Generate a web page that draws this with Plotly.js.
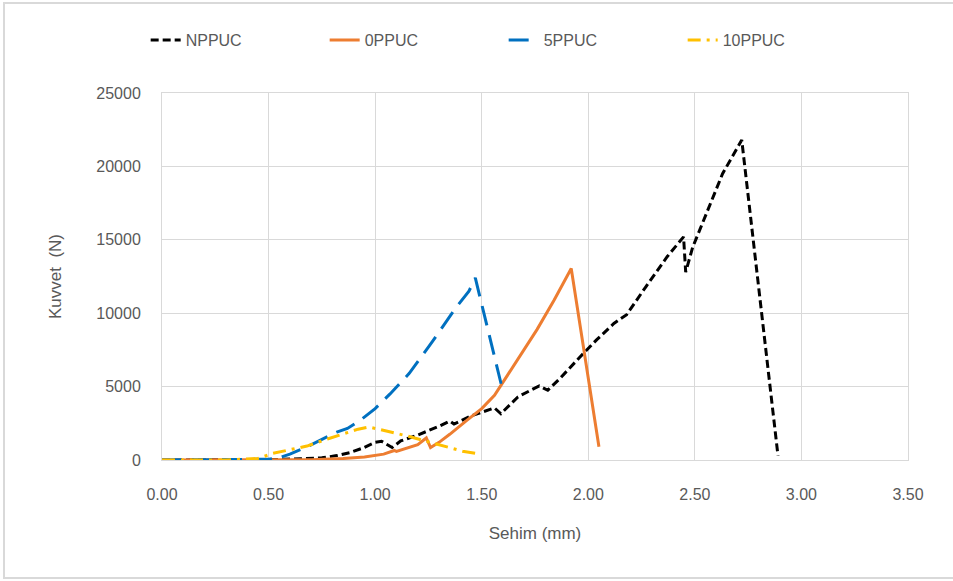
<!DOCTYPE html>
<html>
<head>
<meta charset="utf-8">
<script src="https://cdn.plot.ly/plotly-3.0.1.min.js"></script>
<style>html,body{margin:0;padding:0;background:#fff;}#chart{width:953px;height:581px;}</style>
</head>
<body>
<div id="chart"></div>
<script>
// Sehim (mm) / Kuvvet (N)
const npX = [0, 0.3, 0.55, 0.65, 0.75, 0.82, 0.88, 0.94, 1.0, 1.03, 1.08, 1.12, 1.2, 1.3, 1.35, 1.37, 1.45, 1.56, 1.59, 1.67, 1.77, 1.81, 1.87, 1.96, 2.04, 2.12, 2.18, 2.27, 2.37, 2.447, 2.457, 2.49, 2.56, 2.63, 2.72, 2.89];
const npY = [0, 0, 40, 80, 150, 300, 500, 800, 1200, 1280, 850, 1300, 1700, 2300, 2650, 2450, 3000, 3550, 3150, 4300, 5050, 4750, 5600, 7000, 8200, 9300, 9900, 11800, 13850, 15200, 12800, 14500, 17000, 19500, 21800, 300];

const p0X = [0, 0.5, 0.7, 0.85, 0.95, 1.04, 1.09, 1.1, 1.2, 1.24, 1.26, 1.3, 1.35, 1.43, 1.5, 1.56, 1.6, 1.68, 1.76, 1.84, 1.92, 2.05];
const p0Y = [0, 0, 20, 100, 200, 400, 650, 580, 1050, 1500, 850, 1200, 1750, 2700, 3500, 4400, 5300, 7100, 8900, 10900, 13050, 900];

const p5X = [0, 0.3, 0.5, 0.55, 0.6, 0.68, 0.76, 0.82, 0.87, 0.93, 1.0, 1.07, 1.16, 1.27, 1.38, 1.44, 1.47, 1.6];
const p5Y = [0, 0, 50, 150, 400, 900, 1500, 1900, 2150, 2700, 3500, 4500, 5900, 8100, 10400, 11500, 12400, 4650];

const p10X = [0, 0.3, 0.45, 0.52, 0.6, 0.68, 0.78, 0.85, 0.92, 0.97, 1.02, 1.09, 1.16, 1.22, 1.28, 1.35, 1.41, 1.47];
const p10Y = [0, 0, 100, 450, 700, 950, 1450, 1750, 2100, 2250, 2100, 1850, 1600, 1350, 1100, 800, 600, 450];

const seriesNames = ['NPPUC', '0PPUC', '5PPUC', '10PPUC'];
const xTickVals = [0, 0.5, 1, 1.5, 2, 2.5, 3, 3.5];
const yTickVals = [0, 5000, 10000, 15000, 20000, 25000];

const font = '"Liberation Sans", Arial, sans-serif';
const grey = '#595959';

const traces = [
  {x: npX, y: npY, name: seriesNames[0], mode: 'lines', line: {color: '#000000', width: 3, dash: '8px,4px'}},
  {x: p0X, y: p0Y, name: seriesNames[1], mode: 'lines', line: {color: '#ED7D31', width: 3}},
  {x: p5X, y: p5Y, name: seriesNames[2], mode: 'lines', line: {color: '#0070C0', width: 3, dash: '20px,10px'}},
  {x: p10X, y: p10Y, name: seriesNames[3], mode: 'lines', line: {color: '#FFC000', width: 3, dash: '13px,6px,3px,6px'}}
];

const layout = {
  width: 953, height: 581,
  margin: {l: 162, r: 45, t: 93, b: 121},
  paper_bgcolor: '#ffffff', plot_bgcolor: '#ffffff',
  font: {family: font, color: grey, size: 15},
  showlegend: true,
  legend: {
    orientation: 'h', x: 0.458, xanchor: 'center', y: 1.144, yanchor: 'middle',
    font: {family: font, color: grey, size: 16},
    entrywidth: 134, entrywidthmode: 'pixels', traceorder: 'normal'
  },
  xaxis: {
    range: [0, 3.5], tickvals: xTickVals, tickformat: '.2f',
    showgrid: true, gridcolor: '#d9d9d9', gridwidth: 1,
    showline: true, linecolor: '#d9d9d9', linewidth: 1, mirror: true,
    zeroline: false, ticks: '', ticklen: 0, ticklabelstandoff: 20,
    tickfont: {family: font, color: grey, size: 16},
    title: {text: 'Sehim (mm)', font: {family: font, color: grey, size: 17}, standoff: 24}
  },
  yaxis: {
    range: [0, 25000], tickvals: yTickVals, tickformat: 'd',
    showgrid: true, gridcolor: '#d9d9d9', gridwidth: 1,
    showline: true, linecolor: '#d9d9d9', linewidth: 1, mirror: true,
    zeroline: false, ticks: '', ticklen: 0, ticklabelstandoff: 17,
    tickfont: {family: font, color: grey, size: 16},
    title: {text: 'Kuvvet  (N)', font: {family: font, color: grey, size: 17}, standoff: 30}
  },
  shapes: [{
    type: 'rect', xref: 'paper', yref: 'paper',
    x0: -0.2118, x1: 1.07, y0: -0.3215, y1: 1.245,
    line: {color: '#d9d9d9', width: 2}, fillcolor: 'rgba(0,0,0,0)', layer: 'below'
  }]
};

Plotly.newPlot('chart', traces, layout, {displayModeBar: false, staticPlot: true});
</script>
</body>
</html>
